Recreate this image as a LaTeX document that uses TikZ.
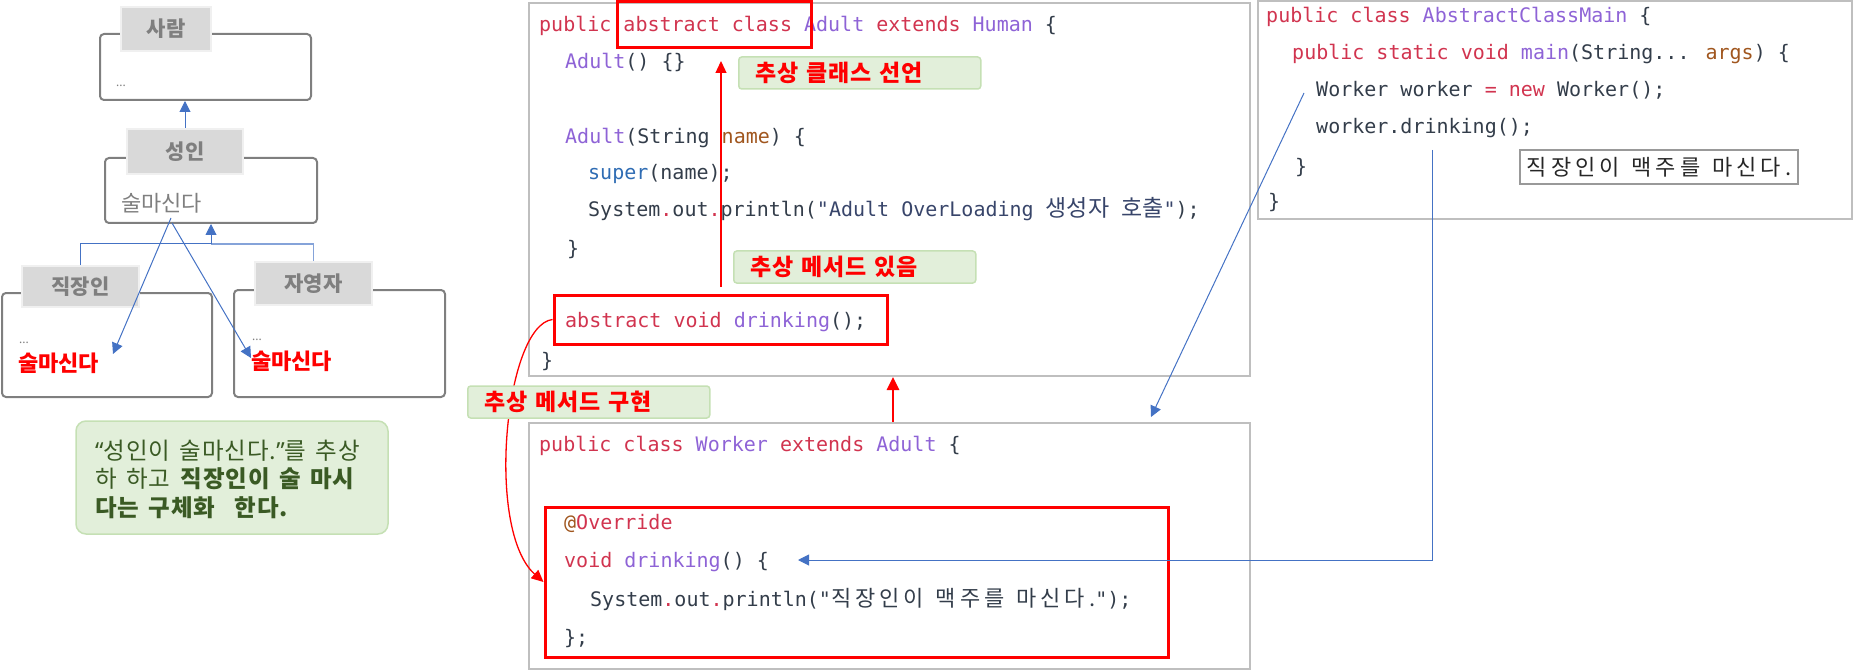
\documentclass[tikz,border=0pt]{standalone}
\usepackage{fontspec}
\usetikzlibrary{arrows.meta}
\newfontfamily\kr{Noto Sans CJK KR}
\newfontfamily\krw[LetterSpace=18]{Noto Sans CJK KR}
\newfontfamily\krn[LetterSpace=4,WordSpace=1.5]{Noto Sans CJK KR}
\newfontfamily\mono{DejaVu Sans Mono}
\newfontfamily\lat{Noto Sans}
\definecolor{kw}{HTML}{D1344F}
\definecolor{pur}{HTML}{8E63D6}
\definecolor{brn}{HTML}{A0561E}
\definecolor{sup}{HTML}{2F6CB3}
\definecolor{cdark}{HTML}{333D4A}
\definecolor{strc}{HTML}{38456A}
\definecolor{bl}{HTML}{4472C4}
\definecolor{fgray}{HTML}{7F7F7F}
\definecolor{hfill}{HTML}{D9D9D9}
\definecolor{cgray}{HTML}{BFBFBF}
\definecolor{nfill}{HTML}{E2EFDA}
\definecolor{ndraw}{HTML}{C5E0B4}
\definecolor{ntext}{HTML}{3A5A24}
\definecolor{rd}{HTML}{FF0000}
\newcommand\ck[1]{\textcolor{kw}{#1}}
\newcommand\cpu[1]{\textcolor{pur}{#1}}
\newcommand\cbr[1]{\textcolor{brn}{#1}}
\newcommand\csu[1]{\textcolor{sup}{#1}}
\newcommand\cst[1]{\textcolor{strc}{#1}}
\newcommand\kc[1]{{\kr\fontsize{23}{24}\selectfont #1}}
\newcommand\kw[1]{{\krw\fontsize{22}{24}\selectfont #1}}
\newcommand\msp{{\mono\fontsize{20}{24}\selectfont\ }}
\begin{document}
\begin{tikzpicture}[x=1pt,y=-1pt,
  frame/.style={draw=fgray, line width=2pt, rounded corners=4pt, inner sep=0pt},
  hdr/.style={fill=hfill, draw=white!94!black, line width=2pt, text=fgray, font=\kr\bfseries\fontsize{21}{24}\selectfont, inner sep=0pt},
  dots/.style={anchor=west, inner sep=0pt, text=fgray, font=\lat\fontsize{12}{14}\selectfont},
  redt/.style={anchor=west, inner sep=0pt, text=rd, font=\kr\bfseries\fontsize{22}{24}\selectfont},
  cbox/.style={draw=cgray, line width=2pt, inner sep=0pt},
  rbox/.style={draw=rd, line width=3pt, inner sep=0pt},
  code/.style={anchor=base west, inner sep=0pt, text=cdark, font=\mono\fontsize{20}{24}\selectfont},
  glab/.style={fill=nfill, draw=ndraw, line width=1.5pt, rounded corners=3pt, anchor=west, inner xsep=17pt, inner ysep=0pt, minimum height=32pt, text=rd, font=\krn\bfseries\fontsize{23}{26}\selectfont, text width=208pt, align=left},
  barrow/.style={draw=bl, line width=1pt, -{Triangle[length=11pt,width=11pt]}},
  rarrow/.style={draw=rd, line width=1.3pt, -{Triangle[length=12pt,width=11pt]}},
  rthick/.style={draw=rd, line width=2.6pt, -{Triangle[length=13pt,width=12pt]}}
]
\useasboundingbox (0,0) rectangle (1853,671);
% ---------- left class diagram ----------
\node[frame, minimum width=211pt, minimum height=66pt] (sa) at (205.5,67) {};
\node[frame, minimum width=212pt, minimum height=65pt] (sb) at (211,190.5) {};
\node[frame, minimum width=210pt, minimum height=104pt] (sc) at (107,345) {};
\node[frame, minimum width=211pt, minimum height=107pt] (sd) at (339.5,343.5) {};
\node[hdr, minimum width=90pt, minimum height=44pt] (sah) at (166,29) {사람};
\node[hdr, minimum width=116pt, minimum height=45pt] (sbh) at (185,151.5) {성인};
\node[hdr, minimum width=117pt, minimum height=41pt] (sch) at (80.5,286.5) {직장인};
\node[hdr, minimum width=117pt, minimum height=43pt] (sdh) at (313.5,283.5) {자영자};
\node[dots] (sad) at (116,86) {...};
\node[dots] (scd) at (19,343) {...};
\node[dots, font=\lat\bfseries\fontsize{12}{14}\selectfont] (sdd) at (252,340) {...};
\node[anchor=west, inner sep=0pt, text=fgray, font=\kr\fontsize{22}{24}\selectfont] (sbt) at (121,203) {술마신다};
\node[redt] (sct) at (18,363) {술마신다};
\node[redt] (sdt) at (251,361) {술마신다};
\draw[barrow] (sbh.north) -- (sbh.north |- sa.south);
\coordinate (jn) at (211,244);
\draw[bl, line width=1pt] (sch.north) |- (jn);
\draw[bl!65, line width=1.2pt] (sdh.north) |- (jn);
\draw[barrow] (jn) -- (jn |- sb.south);
\coordinate (so1) at (171,218);
\coordinate (so2) at (172,223);
\coordinate (te1) at (113,354);
\coordinate (te2) at (251,358);
\draw[barrow] (so1) -- (te1);
\draw[barrow] (so2) -- (te2);
% note
\node[fill=nfill, draw=ndraw, line width=1.5pt, rounded corners=10pt, minimum width=312pt, minimum height=113pt] (nt) at (232,477.5) {};
\node[anchor=west, inner sep=0pt, align=left, text=ntext, font=\krn\fontsize{23.5}{28.5}\selectfont] (ntx) at (95,479)
  {{\lat “}성인이 술마신다.{\lat ”}를 추상\\하 하고 \textbf{직장인이 술 마시}\\\textbf{다는 구체화~~한다.}};
% ---------- code boxes ----------
\node[cbox, minimum width=721pt, minimum height=373pt] (ad) at (889.5,189.5) {};
\node[cbox, minimum width=721pt, minimum height=246pt] (wk) at (889.5,546) {};
\node[cbox, minimum width=594pt, minimum height=218pt] (mn) at (1555,110) {};
% Adult
\node[code] (a1) at (539,32) {\ck{public abstract class} \cpu{Adult} \ck{extends} \cpu{Human} \{};
\node[code] (a2) at (565,69) {\cpu{Adult}() \{\}};
\node[code] (a3) at (565,144) {\cpu{Adult}(String \cbr{name}) \{};
\node[code] (a4) at (588,180) {\csu{super}(name);};
\node[code] (a5) at (588,217) {System\ck{.}out\ck{.}println(\cst{"Adult OverLoading \kc{생성자} \kc{호출}"});};
\node[code] (a6) at (567,255) {\}};
\node[code] (a7) at (565,327) {\ck{abstract void} \cpu{drinking}();};
\node[code] (a8) at (541,367) {\}};
% Worker
\node[code] (w1) at (539,451) {\ck{public class} \cpu{Worker} \ck{extends} \cpu{Adult} \{};
\node[code] (w2) at (564,529) {\textcolor{brn}{@}\ck{Override}};
\node[code] (w3) at (564,567) {\ck{void} \cpu{drinking}() \{};
\node[code] (w4) at (590,606) {System\ck{.}out\ck{.}println("\kw{직장인이}\msp\kw{맥주를}\msp\kw{마신다.}");};
\node[code] (w5) at (564,644) {\};};
% Main
\node[code] (m1) at (1266,23) {\ck{public class} \cpu{AbstractClassMain} \{};
\node[code] (m2) at (1292,60) {\ck{public static void} \cpu{main}(String... \cbr{args}) \{};
\node[code] (m3) at (1316,97) {Worker worker \ck{= new} Worker();};
\node[code] (m4) at (1316,134) {worker.drinking();};
\node[code] (m5) at (1295,174) {\}};
\node[code] (m6) at (1268,209) {\}};
\node[draw=black!40, line width=1.5pt, minimum width=278pt, minimum height=34pt, inner sep=0pt, text=black!85] (ob) at (1659,167) {\kw{직장인이}\msp\kw{맥주를}\msp\kw{마신다.}};
% red boxes
\node[rbox, minimum width=194pt, minimum height=46pt] (r1) at (714,25) {};
\node[rbox, minimum width=333pt, minimum height=49pt] (r2) at (720.5,319.5) {};
\node[rbox, minimum width=623pt, minimum height=150pt] (r3) at (856.5,582) {};
% red connectors
\coordinate (ra1s) at (721,287);
\coordinate (ra1e) at (721,61);
\draw[rarrow] (ra1s) -- (ra1e);
\coordinate (t1) at (893,422);
\draw[rthick] (t1) -- (t1 |- ad.south);
\draw[rarrow] (r2.west) .. controls (505,325) and (485,530) .. (r3.west);
% green labels
\node[glab] (lb1) at (738,73) {추상 클래스 선언};
\node[glab] (lb2) at (733,267) {추상 메서드 있음};
\node[glab] (lb3) at (467,402) {추상 메서드 구현};
% blue connectors
\coordinate (bs1) at (1304,93);
\coordinate (be1) at (1151,417);
\draw[barrow] (bs1) -- (be1);
\coordinate (bs2) at (1432,150);
\coordinate (be2) at (798,560);
\draw[barrow] (bs2) |- (be2);
\end{tikzpicture}
\end{document}
